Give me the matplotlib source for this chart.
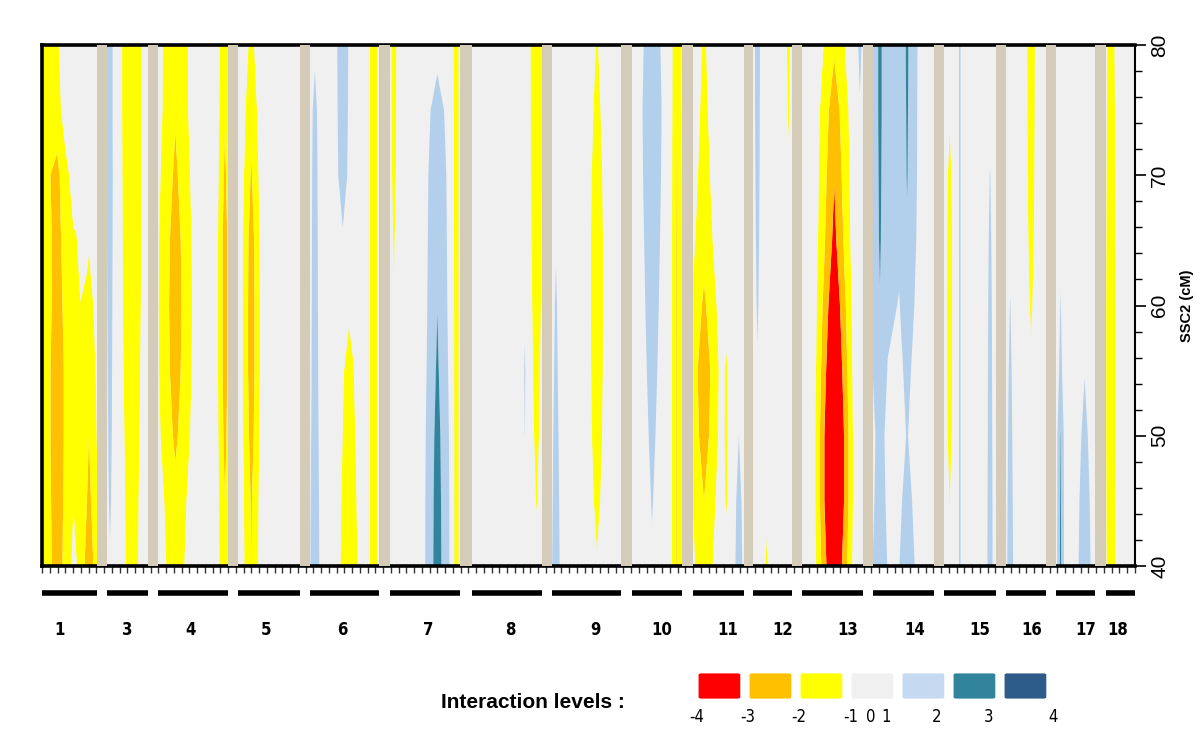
import numpy as np
import matplotlib
matplotlib.use("Agg")
import matplotlib.pyplot as plt
from matplotlib.patches import FancyBboxPatch

plt.rcParams['font.family'] = ['Liberation Sans', 'DejaVu Sans']

# ---------------------------------------------------------------------
# Data (x = marker index along the genome, y = SSC2 position in cM)
# ---------------------------------------------------------------------
cm_rows = [40, 45, 50, 55, 60, 65, 70, 75, 80]

# interaction "stripes": marker position, half width, values at cm_rows
stripe_pos = [1.95, 0.0, 4.4, 6.06, 8.77, 11.6, 17.2, 23.6, 27.0, 35.2,
              38.8, 39.6, 42.8, 45.4, 51.0, 53.4, 63.8, 62.3, 66.3, 71.6,
              78.7, 81.9, 85.4, 88.3, 89.9, 92.3, 93.5, 96.3, 102.2, 105.5,
              108.1, 111.6, 117.1, 118.4, 122.3, 124.9, 127.6, 131.4, 134.5,
              137.9]
stripe_hw = [3.0, 3.0, 1.4, 2.0, 1.0, 2.6, 3.5, 1.5, 1.8, 1.2,
             1.4, 2.2, 1.0, 0.8, 2.6, 0.7, 1.6, 0.4, 1.0, 1.6,
             2.6, 1.2, 3.0, 0.5, 1.0, 0.8, 0.6, 0.6, 3.0, 0.5,
             2.5, 2.5, 0.7, 0.4, 0.8, 0.8, 1.0, 0.8, 1.6, 1.4]
stripe_val = [
    [-2.6, -2.7, -2.8, -2.8, -2.6, -2.35, -2.0, -0.9, -0.6],
    [0, 0, 0, 0, 0, -0.3, -0.9, -1.4, -1.6],
    [0, -0.3, -0.6, -0.65, -0.65, -0.5, -0.1, 0, 0],
    [-2.8, -2.3, -2.0, -1.75, -1.4, -0.9, 0, 0, 0],
    [0.9, 1.15, 1.3, 1.4, 1.5, 1.6, 1.7, 1.6, 1.6],
    [-1.45, -1.5, -1.6, -1.7, -1.8, -1.85, -1.9, -1.95, -1.95],
    [-1.5, -1.7, -2.2, -2.5, -2.6, -2.5, -2.2, -1.9, -1.85],
    [-1.9, -2.0, -2.3, -2.5, -2.5, -2.5, -2.2, -1.9, -1.8],
    [-2.0, -2.1, -2.4, -2.6, -2.6, -2.5, -2.1, -1.7, -1.25],
    [1.9, 1.8, 1.65, 1.55, 1.5, 1.45, 1.4, 1.3, 0.8],
    [0, 0, 0, 0, 0.9, 1.4, 1.7, 1.9, 2.0],
    [-2.0, -1.8, -1.6, -1.4, -1.2, -0.9, 0, 0, 0],
    [-1.95, -1.95, -1.95, -1.95, -1.95, -1.95, -1.95, -1.95, -1.95],
    [0, 0, 0, 0, -0.9, -1.15, -1.45, -1.6, -1.7],
    [2.5, 2.45, 2.35, 2.15, 1.98, 1.9, 1.8, 1.5, 0.6],
    [-2.05, -2.05, -2.05, -2.05, -2.05, -2.05, -2.05, -2.05, -2.0],
    [-0.8, -1.05, -1.25, -1.4, -1.55, -1.7, -1.8, -1.9, -1.95],
    [0, 0, 1.1, 1.3, 0.8, 0, 0, 0, 0],
    [1.9, 1.7, 1.5, 1.3, 1.15, 0.9, 0, 0, 0],
    [-0.9, -1.35, -1.7, -1.9, -1.95, -1.95, -1.75, -1.4, -1.1],
    [0.9, 1.05, 1.2, 1.35, 1.5, 1.65, 1.8, 1.9, 1.7],
    [-2.1, -2.1, -2.1, -2.1, -2.1, -2.1, -2.05, -1.95, -1.9],
    [-1.6, -2.0, -2.55, -2.75, -2.2, -1.6, -1.35, -1.2, -1.1],
    [0, -1.2, -1.4, -1.3, 0, 0, 0, 0, 0],
    [1.8, 1.5, 1.0, 0.6, 0, 0, 0, 0, 0],
    [0, 0, 0, 0.9, 1.15, 1.35, 1.5, 1.6, 1.7],
    [-1.4, -0.5, 0, 0, 0, 0, 0, 0, 0],
    [0, 0, 0, 0, 0, 0, -0.8, -1.2, -1.5],
    [-4.5, -5.2, -5.2, -4.6, -4.0, -3.3, -2.95, -2.6, -1.84],
    [0, 0, 0, 0, 0, 0, 0, 0.8, 1.6],
    [1.6, 1.4, 1.3, 1.6, 1.95, 2.1, 2.15, 2.2, 2.2],
    [1.65, 1.35, 1.05, 1.25, 1.6, 1.9, 2.05, 2.1, 2.15],
    [-0.7, -1.05, -1.6, -1.8, -1.85, -1.8, -1.5, -0.8, -0.5],
    [1.3, 1.3, 1.3, 1.3, 1.3, 1.3, 1.3, 1.3, 1.3],
    [1.7, 1.65, 1.55, 1.5, 1.4, 1.25, 1.05, 0.6, 0],
    [1.9, 1.7, 1.5, 1.3, 1.05, 0.7, 0, 0, 0],
    [0, 0, 0, -0.8, -1.2, -1.55, -1.75, -1.9, -1.97],
    [2.2, 2.15, 2.05, 1.3, 1.05, 0.8, 0, 0, 0],
    [1.94, 1.7, 1.35, 0.95, 0.6, 0, 0, 0, 0],
    [-1.7, -1.75, -1.8, -1.8, -1.8, -1.75, -1.7, -1.6, -1.5],
]

# chromosomes on the x axis (SSC2 itself is the y axis)
chrom_labels = ['1', '3', '4', '5', '6', '7', '8', '9', '10', '11', '12',
                '13', '14', '15', '16', '17', '18']
chrom_start = [0.0, 8.4, 15.0, 25.3, 34.6, 44.9, 55.5, 65.8, 76.1, 84.0,
               91.7, 98.1, 107.2, 116.4, 124.4, 130.8, 137.3]
chrom_end = [7.1, 13.7, 24.0, 33.3, 43.5, 53.9, 64.5, 74.7, 82.6, 90.5,
             96.8, 105.9, 115.1, 123.1, 129.5, 135.9, 141.0]
chrom_label_pos = [2.3, 11.0, 19.1, 28.9, 38.8, 49.8, 60.4, 71.4, 80.0,
                   88.4, 95.6, 104.0, 112.6, 121.0, 127.7, 134.6, 138.8]
n_markers = 142

level_bounds = [-100, -3, -2, -1, 1, 2, 3, 100]
level_colors = ['#FF0000', '#FFC000', '#FFFF00', '#F0F0F0',
                '#B2CFEC', '#31849B', '#2E5C8A']
legend_colors = ['#FF0000', '#FFC000', '#FFFF00', '#F0F0F0',
                 '#C5D9F1', '#31849B', '#2E5C8A']
legend_labels = ['-4', '-3', '-2', '-1', '0', '1', '2', '3', '4']
legend_label_pos = [0.0, 0.99, 1.98, 2.99, 3.38, 3.67, 4.66, 5.65, 6.91]

BEIGE = '#D4CCB9'
NARROW = dict(family='DejaVu Sans', stretch='condensed')

# ---------------------------------------------------------------------
# Build the interaction field from the stripes
# ---------------------------------------------------------------------
cols = [-2.0, n_markers + 1.0]
for p, hw in zip(stripe_pos, stripe_hw):
    cols += [p - hw, p, p + hw]
xs = np.unique(np.round(cols, 4))
Z = np.zeros((len(cm_rows), len(xs)))
for p, hw, vals in zip(stripe_pos, stripe_hw, stripe_val):
    for r, v in enumerate(vals):
        Z[r] += np.interp(xs, [p - hw, p, p + hw], [0, v, 0], left=0, right=0)

# ---------------------------------------------------------------------
# Figure
# ---------------------------------------------------------------------
fig = plt.figure(figsize=(12, 7.5), dpi=100)
ax = fig.add_axes([0.035, 0.2453, 0.9108, 0.6947])
ax.set_facecolor('#F0F0F0')

ax.contourf(xs, cm_rows, Z, levels=level_bounds, colors=level_colors,
            antialiased=True, zorder=1)

for i in range(len(chrom_end) - 1):
    ax.axvspan(chrom_end[i], chrom_start[i + 1], color=BEIGE, lw=0, zorder=3)

ax.set_xlim(0, n_markers - 1)
ax.set_ylim(40, 80)

ax.set_xticks(np.arange(0, n_markers, 1))
ax.tick_params(axis='x', direction='out', length=5, width=1,
               labelbottom=False, color='#333333')

ax.yaxis.tick_right()
ax.yaxis.set_label_position('right')
ax.set_yticks([40, 50, 60, 70, 80])
ax.set_yticks(np.arange(40, 81, 2), minor=True)
ax.tick_params(axis='y', which='major', direction='out', length=8, width=1.2,
               labelsize=15, pad=3)
ax.tick_params(axis='y', which='minor', direction='out', length=5, width=1)
ax.tick_params(axis='y', which='both', left=False)
for lab in ax.get_yticklabels():
    lab.set_rotation(90)
    lab.set_va('center')
ax.set_ylabel('SSC2 (cM)', fontsize=10.5, fontweight='bold', labelpad=8)

for side in ['top', 'left', 'bottom']:
    ax.spines[side].set_linewidth(2.6)
ax.spines['right'].set_linewidth(1.5)

# chromosome dashes and labels below the axis
trans = ax.get_xaxis_transform()
for s, e, lab, lp in zip(chrom_start, chrom_end, chrom_labels, chrom_label_pos):
    ax.plot([s, e], [-0.052, -0.052], color='black', lw=4, transform=trans,
            clip_on=False, solid_capstyle='butt')
    ax.text(lp, -0.123, lab, transform=trans, ha='center', va='center',
            fontsize=12, fontweight='bold', **NARROW)

# legend
fig.text(0.3675, 0.0627, 'Interaction levels :', fontsize=15,
         fontweight='bold', ha='left', va='center')
lax = fig.add_axes([697 / 1200, 1 - 700 / 750, 356 / 1200, 28 / 750])
lax.set_xlim(0, 6.91)
lax.set_ylim(0, 1)
lax.axis('off')
for i, c in enumerate(legend_colors):
    lax.add_patch(FancyBboxPatch((i * 0.99 + 0.03, 0.05), 0.81, 0.9,
                                 boxstyle='round,pad=0,rounding_size=0.05',
                                 fc=c, ec='none'))
for lab, lp in zip(legend_labels, legend_label_pos):
    lax.text(lp, -0.62, lab, ha='center', va='center', fontsize=12, **NARROW)

fig.savefig('out.png', dpi=100)
